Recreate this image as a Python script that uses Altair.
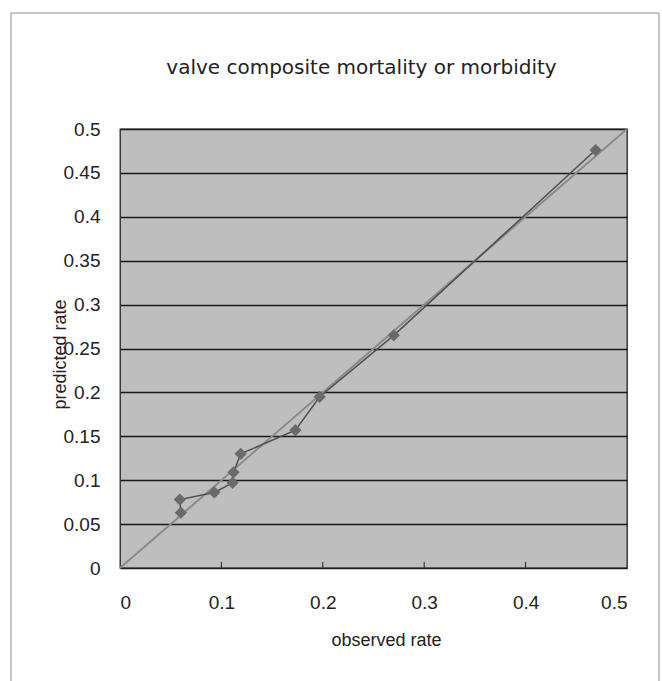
import altair as alt
import pandas as pd

observed = [0.060, 0.059, 0.093, 0.111, 0.112, 0.119, 0.173, 0.197, 0.270, 0.469]
predicted = [0.063, 0.078, 0.086, 0.097, 0.109, 0.130, 0.157, 0.195, 0.265, 0.476]
ref_x = [0.0, 0.5]
ref_y = [0.0, 0.5]
x_ticks = [0.1, 0.2, 0.3, 0.4]
x_labels = [0, 0.1, 0.2, 0.3, 0.4, 0.5]
y_ticks = [0, 0.05, 0.1, 0.15, 0.2, 0.25, 0.3, 0.35, 0.4, 0.45, 0.5]

FONT = "Liberation Sans"
TFONT = "DejaVu Sans"

pts = pd.DataFrame({"observed": observed, "predicted": predicted, "order": list(range(len(observed)))})
ref = pd.DataFrame({"observed": ref_x, "predicted": ref_y})
ticks = pd.DataFrame({"x": x_ticks, "y0": [0.0] * len(x_ticks), "y1": [0.007] * len(x_ticks)})

xs = alt.Scale(domain=[0, 0.5], nice=False, zero=False)
ys = alt.Scale(domain=[0, 0.5], nice=False, zero=False)

xaxis = alt.Axis(
    values=x_labels, labelExpr="'' + datum.value", grid=False, ticks=False,
    domain=False, labelPadding=25, labelFontSize=19, labelFont=FONT, labelColor="#222",
    title="observed rate", titleFont=FONT, titleFontSize=18, titleFontWeight="normal",
    titleColor="#222", titleX=266, titleY=72, titleBaseline="middle", titleAlign="center",
)
yaxis = alt.Axis(
    values=y_ticks, labelExpr="'' + datum.value", grid=True, gridColor="#1a1a1a",
    gridWidth=1.4, ticks=False, domain=False, labelPadding=20, labelFontSize=19,
    labelFont=FONT, labelColor="#222", title="predicted rate", titleFont=FONT,
    titleFontSize=18, titleFontWeight="normal", titleColor="#222", titleX=-60,
    titleY=225, titleAngle=270, titleBaseline="middle", titleAlign="center",
)

frame = alt.Chart(pd.DataFrame({"k": [0]})).mark_rect(
    fill=None, stroke="#8c8c8c", strokeWidth=1
).encode(
    x=alt.value(-109), x2=alt.value(539), y=alt.value(-116), y2=alt.value(600)
)

base_ref = alt.Chart(ref).mark_line(color="#8a8a8a", strokeWidth=2).encode(
    x=alt.X("observed:Q", scale=xs, axis=xaxis),
    y=alt.Y("predicted:Q", scale=ys, axis=yaxis),
)

tick_marks = alt.Chart(ticks).mark_rule(color="#222", strokeWidth=1).encode(
    x=alt.X("x:Q", scale=xs), y=alt.Y("y0:Q", scale=ys), y2="y1:Q"
)

line = alt.Chart(pts).mark_line(color="#4f4f4f", strokeWidth=1.5).encode(
    x=alt.X("observed:Q", scale=xs), y=alt.Y("predicted:Q", scale=ys), order="order:Q"
)

points = alt.Chart(pts).mark_point(shape="diamond", filled=True, size=150, color="#6a6a6a", opacity=1).encode(
    x=alt.X("observed:Q", scale=xs), y=alt.Y("predicted:Q", scale=ys)
)

chart = alt.layer(frame, base_ref, tick_marks, line, points).properties(
    width=507, height=439,
    title=alt.TitleParams(
        "valve composite mortality or morbidity", font=TFONT, fontSize=20,
        fontWeight="normal", color="#222", offset=-85, dx=-12, baseline="bottom",
        anchor="middle",
    ),
    autosize=alt.AutoSizeParams(type="none"),
    padding={"left": 120, "top": 129, "right": 35, "bottom": 113},
    background="white",
).configure_view(
    fill="#bebebe", stroke="#222", strokeWidth=1.3
)

chart.save("out.html", embed_options={"renderer": "svg", "actions": False})
